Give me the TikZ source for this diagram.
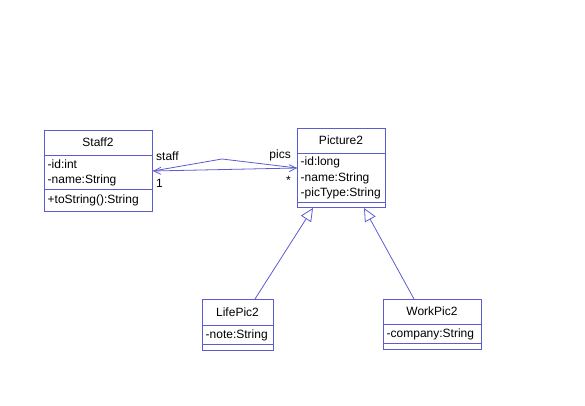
\documentclass[tikz,border=0pt]{standalone}
\usepackage{fontspec}
\setmainfont{Liberation Sans}
\usetikzlibrary{arrows.meta,calc}
\definecolor{umlblue}{RGB}{92,92,208}
\tikzset{
  classbox/.style={draw=umlblue, line width=1pt, rectangle, inner sep=0pt, anchor=north west},
  divider/.style={draw=umlblue, line width=1pt},
  txt/.style={inner sep=0pt, font=\fontsize{12}{14}\selectfont, text=black},
  assoc/.style={draw=umlblue, line width=0.8pt},
  navtip/.style={-{Straight Barb[length=7pt,width=7pt]}},
  gen/.style={draw=umlblue, line width=0.8pt, -{Triangle[open,length=13pt,width=12pt,fill=white]}}
}
\begin{document}
\begin{tikzpicture}[x=1pt,y=-1pt]
\useasboundingbox (0,0) rectangle (585,406);
% Staff2
\node[classbox, minimum width=108pt, minimum height=81pt] (staff) at (44,130) {};
\draw[divider] (44,155.5) -- (152,155.5);
\draw[divider] (44,189) -- (152,189);
\node[txt] (staffT) at (98,142) {Staff2};
\node[txt, anchor=west] (staffA1) at (47.5,164.5) {-id:int};
\node[txt, anchor=west] (staffA2) at (47.5,180) {-name:String};
\node[txt, anchor=west] (staffM1) at (47.5,200.5) {+toString():String};
% Picture2
\node[classbox, minimum width=88pt, minimum height=79pt] (pic) at (297,128) {};
\draw[divider] (297,153) -- (385,153);
\draw[divider] (297,202) -- (385,202);
\node[txt] (picT) at (341,140.5) {Picture2};
\node[txt, anchor=west] (picA1) at (300.5,162.5) {-id:long};
\node[txt, anchor=west] (picA2) at (300.5,178) {-name:String};
\node[txt, anchor=west] (picA3) at (300.5,193) {-picType:String};
% LifePic2
\node[classbox, minimum width=71pt, minimum height=51pt] (life) at (202,299) {};
\draw[divider] (202,325) -- (273,325);
\draw[divider] (202,344) -- (273,344);
\node[txt] (lifeT) at (237.5,312) {LifePic2};
\node[txt, anchor=west] (lifeA1) at (205.5,335) {-note:String};
% WorkPic2
\node[classbox, minimum width=98pt, minimum height=50pt] (work) at (383,299) {};
\draw[divider] (383,324) -- (481,324);
\draw[divider] (383,343) -- (481,343);
\node[txt] (workT) at (432,311.5) {WorkPic2};
\node[txt, anchor=west] (workA1) at (386.5,334) {-company:String};
% association
\coordinate (bend) at (222,159);
\draw[assoc] (staff.east) -- (bend) -- (pic.west);
\draw[assoc, navtip] ($(staff.east)!0.5!(pic.west)$) -- (pic.west);
\draw[assoc, navtip] ($(staff.east)!0.5!(pic.west)$) -- (staff.east);
\node[txt, anchor=west] (lstaff) at (156,156) {staff};
\node[txt, anchor=east] (lpics) at (291,155) {pics};
\node[txt, anchor=west] (lone) at (156,183) {1};
\node[txt, anchor=east] (lstar) at (291,180) {*};
% generalizations
\draw[gen] ([xshift=53pt]life.north west) -- ([xshift=16pt]pic.south west);
\draw[gen] ([xshift=31pt]work.north west) -- ([xshift=67pt]pic.south west);
\end{tikzpicture}
\end{document}
